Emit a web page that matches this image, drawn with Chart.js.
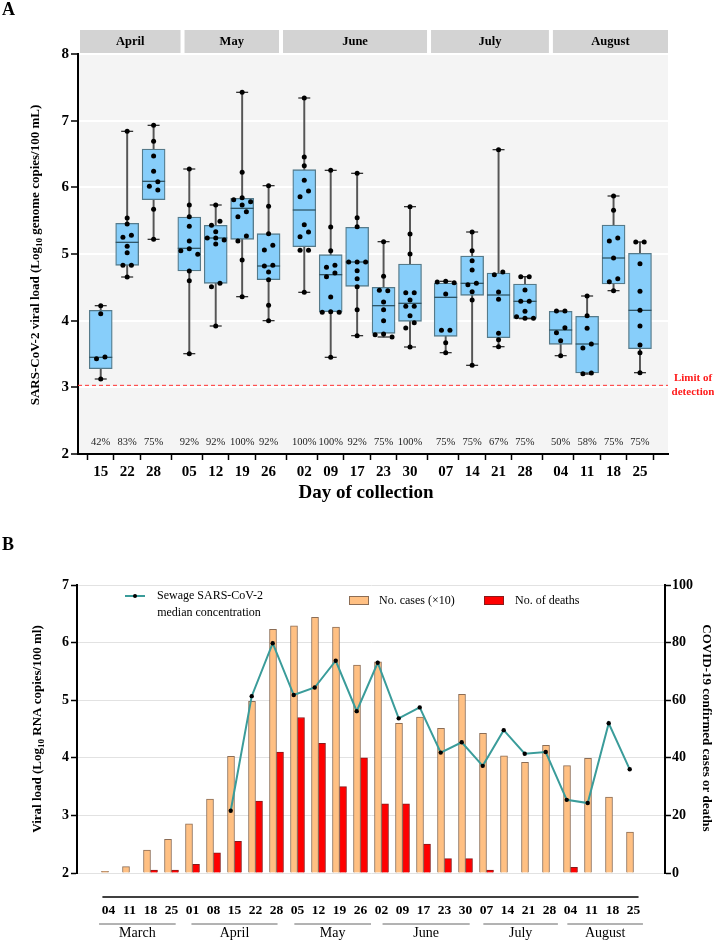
<!DOCTYPE html>
<html>
<head>
<meta charset="utf-8">
<script src="https://cdn.jsdelivr.net/npm/chart.js@4.4.0/dist/chart.umd.min.js"></script>
<style>
html, body { margin: 0; padding: 0; background: #fff; }
#wrap { position: relative; width: 714px; height: 940px; }
canvas { position: absolute; left: 0; }
#chartA { top: 0; }
#chartB { top: 505px; }
</style>
</head>
<body>
<div id="wrap">
  <canvas id="chartA" width="714" height="505"></canvas>
  <canvas id="chartB" width="714" height="435"></canvas>
</div>
<script>
// ---------- panel A data ----------
const monthsA = ['April', 'May', 'June', 'July', 'August'];
const daysA = [['15', '22', '28'], ['05', '12', '19', '26'], ['02', '09', '17', '23', '30'], ['07', '14', '21', '28'], ['04', '11', '18', '25']];
const positivity = ['42%', '83%', '75%', '92%', '92%', '100%', '92%', '100%', '100%', '92%', '75%', '100%', '75%', '75%', '67%', '75%', '50%', '58%', '75%', '75%'];
const boxQ1 = [3.28, 4.83, 5.815, 4.745, 4.56, 5.22, 4.615, 5.11, 4.135, 4.515, 3.81, 3.99, 3.765, 4.38, 3.745, 4.035, 3.645, 3.215, 4.55, 3.58];
const boxQ3 = [4.155, 5.46, 6.575, 5.555, 5.43, 5.835, 5.305, 6.265, 4.99, 5.40, 4.50, 4.85, 4.565, 4.97, 4.715, 4.55, 4.14, 4.065, 5.435, 5.01];
const boxMedian = [3.45, 5.175, 6.09, 5.085, 5.24, 5.685, 4.82, 5.66, 4.69, 4.88, 4.225, 4.26, 4.35, 4.56, 4.385, 4.29, 3.86, 3.65, 4.94, 4.155];
const whiskerMin = [3.125, 4.655, 5.22, 3.505, 3.92, 4.36, 4.0, 4.425, 3.45, 3.775, 3.755, 3.605, 3.52, 3.33, 3.61, 4.03, 3.475, 3.20, 4.45, 3.22];
const whiskerMax = [4.225, 6.84, 6.93, 6.275, 5.735, 7.425, 6.025, 7.34, 6.255, 6.21, 5.185, 5.71, 4.59, 5.33, 6.565, 4.66, 4.145, 4.37, 5.87, 5.18];
const samples = [
  [4.225, 4.105, 3.455, 3.43, 3.125],
  [6.84, 5.54, 5.45, 5.28, 5.25, 5.115, 5.02, 4.83, 4.83, 4.655],
  [6.93, 6.69, 6.47, 6.24, 6.085, 6.015, 5.96, 5.67, 5.22],
  [6.275, 5.735, 5.56, 5.415, 5.195, 5.08, 5.05, 4.995, 4.745, 4.60, 3.505],
  [5.735, 5.49, 5.43, 5.335, 5.24, 5.24, 5.21, 5.15, 4.56, 4.51, 3.92],
  [7.425, 6.225, 5.845, 5.815, 5.785, 5.735, 5.635, 5.56, 5.27, 5.195, 4.91, 4.36],
  [6.025, 5.715, 5.305, 5.13, 5.06, 4.83, 4.82, 4.73, 4.615, 4.23, 4.0],
  [7.34, 6.455, 6.325, 6.105, 5.945, 5.86, 5.44, 5.33, 5.26, 5.055, 5.055, 4.425],
  [6.255, 5.405, 5.05, 4.83, 4.80, 4.715, 4.66, 4.355, 4.135, 4.125, 4.125, 3.45],
  [6.21, 5.545, 5.41, 4.88, 4.88, 4.88, 4.75, 4.63, 4.51, 4.165, 3.775],
  [5.185, 4.665, 4.45, 4.455, 4.28, 4.165, 4.0, 3.80, 3.79, 3.755],
  [5.71, 5.30, 5.0, 4.42, 4.42, 4.31, 4.215, 4.215, 4.075, 3.97, 3.89, 3.605],
  [4.59, 4.58, 4.57, 4.40, 3.855, 3.855, 3.67, 3.52],
  [5.33, 5.05, 4.90, 4.76, 4.56, 4.54, 4.435, 4.31, 3.33],
  [6.565, 4.73, 4.69, 4.43, 4.32, 3.81, 3.715, 3.61],
  [4.66, 4.66, 4.46, 4.29, 4.29, 4.14, 4.06, 4.035, 4.035],
  [4.145, 4.145, 3.895, 3.82, 3.70, 3.475],
  [4.37, 4.075, 3.885, 3.65, 3.59, 3.215, 3.205],
  [5.87, 5.655, 5.24, 5.195, 4.94, 4.63, 4.585, 4.45],
  [5.18, 5.18, 4.855, 4.44, 4.155, 3.92, 3.635, 3.52, 3.22]
];
const limitOfDetection = 3.03;

// ---------- panel B data ----------
const weeksB = ['04', '11', '18', '25', '01', '08', '15', '22', '28', '05', '12', '19', '26', '02', '09', '17', '23', '30', '07', '14', '21', '28', '04', '11', '18', '25'];
const monthsB = ['March', 'April', 'May', 'June', 'July', 'August'];
const casesX10 = [0.6, 2.2, 8, 11.7, 17.1, 25.7, 40.5, 59.6, 84.6, 85.8, 88.8, 85.4, 72.2, 73.3, 52, 54.1, 50.2, 62, 48.5, 40.7, 38.4, 44.3, 37.3, 39.8, 26.4, 14.2];
const deaths = [0, 0, 1, 1, 3, 7, 11, 25, 42, 54, 45, 30, 40, 24, 24, 10, 5, 5, 1, 0, 0, 0, 2, 0, 0, 0];
const sewageMedian = [null, null, null, null, null, null, 3.08, 5.07, 5.99, 5.09, 5.22, 5.685, 4.81, 5.65, 4.685, 4.875, 4.09, 4.27, 3.86, 4.48, 4.07, 4.10, 3.27, 3.215, 4.60, 3.80];

const SERIF = '"Liberation Serif", "Times New Roman", serif';
Chart.defaults.font.family = SERIF;
Chart.defaults.color = '#000';

// x positions of the boxes: one unit per week, a wider gap between months
const xPos = [];
let cur = 0;
daysA.forEach(g => { g.forEach(() => { xPos.push(cur); cur += 1; }); cur += 0.35; });
const dayLabels = daysA.flat();

// simple beeswarm so that equal values sit side by side
function swarmOffsets(vals) {
  const gap = 0.085, step = 0.32;
  const cols = [];
  vals.forEach((v, i) => {
    const near = [];
    for (let j = 0; j < i; j++) if (Math.abs(vals[j] - v) < gap) near.push(cols[j]);
    let c = 0;
    for (const cand of [0, -1, 1, -2, 2]) { if (!near.includes(cand)) { c = cand; break; } }
    cols.push(c);
  });
  const out = cols.slice();
  vals.forEach((v, i) => {
    if (cols[i] !== -1) return;
    const row = vals.map((w, j) => j).filter(j => Math.abs(vals[j] - v) < gap);
    if (!row.some(j => cols[j] === 1)) row.forEach(j => { if (cols[j] === 0 || cols[j] === -1) out[j] = cols[j] + 0.5; });
  });
  return out.map(c => c * step);
}

const samplePoints = [];
samples.forEach((vals, i) => {
  const offs = swarmOffsets(vals);
  vals.forEach((v, k) => samplePoints.push({ x: xPos[i] + offs[k], y: v }));
});

function drawRich(ctx, parts, x, y, rot) {
  ctx.save();
  ctx.translate(x, y);
  ctx.rotate(rot);
  let total = 0;
  parts.forEach(p => { ctx.font = p.font; total += ctx.measureText(p.text).width; });
  let cx = -total / 2;
  ctx.textAlign = 'left';
  ctx.textBaseline = 'middle';
  ctx.fillStyle = '#000';
  parts.forEach(p => {
    ctx.font = p.font;
    ctx.fillText(p.text, cx, p.dy || 0);
    cx += ctx.measureText(p.text).width;
  });
  ctx.restore();
}

const headerBounds = [-0.86, 3.094, 6.82, 12.42, 17.03, 21.46];

const panelA = {
  id: 'panelA',
  beforeDraw(chart) {
    const { ctx, chartArea: a } = chart;
    ctx.save();
    ctx.fillStyle = '#f4f4f4';
    ctx.fillRect(a.left, a.top, a.right - a.left, a.bottom - a.top);
    ctx.restore();
  },
  beforeDatasetsDraw(chart) {
    const { ctx, chartArea: a, scales: { y } } = chart;
    const py = y.getPixelForValue(limitOfDetection);
    ctx.save();
    ctx.strokeStyle = '#ff3030';
    ctx.lineWidth = 1;
    ctx.setLineDash([4, 3]);
    ctx.beginPath();
    ctx.moveTo(a.left, py);
    ctx.lineTo(a.right, py);
    ctx.stroke();
    ctx.restore();
  },
  afterDraw(chart) {
    const { ctx, chartArea: a, scales: { x, y } } = chart;
    ctx.save();
    // month strips
    monthsA.forEach((m, i) => {
      const l = i === 0 ? a.left + 2 : x.getPixelForValue(headerBounds[i]) + 2;
      const r = i === monthsA.length - 1 ? a.right : x.getPixelForValue(headerBounds[i + 1]) - 2;
      ctx.fillStyle = '#d3d3d3';
      ctx.fillRect(l, 30, r - l, 23);
      ctx.fillStyle = '#000';
      ctx.font = 'bold 12.5px ' + SERIF;
      ctx.textAlign = 'center';
      ctx.textBaseline = 'middle';
      ctx.fillText(m, (l + r) / 2, 42);
    });
    // positivity
    ctx.font = '10.5px ' + SERIF;
    ctx.fillStyle = '#222';
    positivity.forEach((p, i) => ctx.fillText(p, x.getPixelForValue(xPos[i]), a.bottom - 12));
    // limit of detection label
    ctx.fillStyle = '#ff1a1a';
    ctx.font = 'bold 11px ' + SERIF;
    const ly = y.getPixelForValue(limitOfDetection);
    ctx.fillText('Limit of', 693, ly - 7);
    ctx.fillText('detection', 693, ly + 7);
    // titles
    ctx.fillStyle = '#000';
    ctx.font = 'bold 19px ' + SERIF;
    ctx.fillText('Day of collection', 366, 493);
    ctx.font = 'bold 18px ' + SERIF;
    ctx.textAlign = 'left';
    ctx.fillText('A', 2, 10);
    ctx.restore();
    drawRich(ctx, [
      { text: 'SARS-CoV-2 viral load (Log', font: 'bold 13px ' + SERIF },
      { text: '10', font: 'bold 9px ' + SERIF, dy: 4 },
      { text: ' genome copies/100 mL)', font: 'bold 13px ' + SERIF }
    ], 36, 255, -Math.PI / 2);
  }
};

new Chart(document.getElementById('chartA'), {
  type: 'bar',
  data: {
    datasets: [
      {
        type: 'bar', label: 'range',
        data: xPos.map((v, i) => ({ x: v, y: [whiskerMin[i], whiskerMax[i]] })),
        backgroundColor: '#555', barThickness: 1.3, grouped: false, order: 4
      },
      {
        type: 'bar', label: 'IQR',
        data: xPos.map((v, i) => ({ x: v, y: [boxQ1[i], boxQ3[i]] })),
        backgroundColor: '#87cefa', borderColor: '#557a8a', borderWidth: 1.3,
        borderSkipped: false, barThickness: 23, grouped: false, order: 3
      },
      {
        type: 'scatter', label: 'median',
        data: xPos.map((v, i) => ({ x: v, y: boxMedian[i] })),
        pointStyle: 'line', radius: 11.5, borderColor: '#2f5566', borderWidth: 1.3, order: 2
      },
      {
        type: 'scatter', label: 'caps',
        data: xPos.map((v, i) => ({ x: v, y: whiskerMin[i] })).concat(xPos.map((v, i) => ({ x: v, y: whiskerMax[i] }))),
        pointStyle: 'line', radius: 6, borderColor: '#333', borderWidth: 1.3, order: 1
      },
      {
        type: 'scatter', label: 'samples', data: samplePoints,
        backgroundColor: '#000', borderWidth: 0, radius: 2.5, order: 0
      }
    ]
  },
  options: {
    responsive: false,
    animation: false,
    events: [],
    layout: { padding: { top: 54, right: 46, left: 0, bottom: 0 } },
    plugins: { legend: { display: false }, tooltip: { enabled: false } },
    scales: {
      x: {
        type: 'linear', min: -0.86, max: 21.46, offset: false,
        afterBuildTicks: s => { s.ticks = xPos.map(v => ({ value: v })); },
        afterFit: s => { s.height = 51; },
        ticks: {
          autoSkip: false, maxRotation: 0, padding: 3,
          font: { size: 15, weight: 'bold' },
          callback: (v, i) => dayLabels[i]
        },
        grid: { drawOnChartArea: false, tickLength: 6, tickColor: '#000', tickWidth: 1.5 },
        border: { color: '#000', width: 2 }
      },
      y: {
        min: 2, max: 8,
        afterFit: s => { s.width = 78; },
        ticks: { stepSize: 1, padding: 2, font: { size: 15, weight: 'bold' } },
        grid: { color: '#ffffff', lineWidth: 2, tickLength: 7, tickColor: '#000', tickWidth: 1.5 },
        border: { color: '#000', width: 2 }
      }
    }
  },
  plugins: [panelA]
});

// ---------- panel B ----------
const monthSpansB = [[-0.45, 3.2], [3.95, 8.05], [8.85, 12.5], [13.05, 17.2], [17.85, 21.4], [21.85, 25.45]];

const panelB = {
  id: 'panelB',
  afterDraw(chart) {
    const { ctx, chartArea: a, scales: { x } } = chart;
    ctx.save();
    // category axis below the plot
    const axY = a.bottom + 24;
    ctx.strokeStyle = '#000';
    ctx.lineWidth = 1.5;
    ctx.beginPath();
    ctx.moveTo(x.getPixelForValue(-0.29), axY);
    ctx.lineTo(x.getPixelForValue(25.24), axY);
    ctx.stroke();
    ctx.fillStyle = '#000';
    ctx.font = 'bold 13.5px ' + SERIF;
    ctx.textAlign = 'center';
    ctx.textBaseline = 'middle';
    weeksB.forEach((w, i) => ctx.fillText(w, x.getPixelForValue(i), axY + 14));
    ctx.strokeStyle = '#666';
    ctx.lineWidth = 1;
    ctx.font = '14px ' + SERIF;
    monthsB.forEach((m, i) => {
      const l = x.getPixelForValue(monthSpansB[i][0]);
      const r = x.getPixelForValue(monthSpansB[i][1]);
      ctx.beginPath();
      ctx.moveTo(l, axY + 27);
      ctx.lineTo(r, axY + 27);
      ctx.stroke();
      ctx.fillText(m, (l + r) / 2, axY + 36);
    });
    // legend
    ctx.strokeStyle = '#3a9c9a';
    ctx.lineWidth = 2;
    ctx.beginPath();
    ctx.moveTo(125, 91);
    ctx.lineTo(145, 91);
    ctx.stroke();
    ctx.fillStyle = '#000';
    ctx.beginPath();
    ctx.arc(135, 91, 2, 0, Math.PI * 2);
    ctx.fill();
    ctx.font = '12px ' + SERIF;
    ctx.textAlign = 'left';
    ctx.fillText('Sewage SARS-CoV-2', 157, 91);
    ctx.textAlign = 'center';
    ctx.fillText('median concentration', 209, 108);
    ctx.fillStyle = '#ffc083';
    ctx.fillRect(349, 91, 20, 9);
    ctx.strokeStyle = '#8c6d55';
    ctx.lineWidth = 1;
    ctx.strokeRect(349.5, 91.5, 19, 8);
    ctx.fillStyle = '#ff0000';
    ctx.fillRect(484, 91, 20, 9);
    ctx.strokeStyle = '#8a1a1a';
    ctx.strokeRect(484.5, 91.5, 19, 8);
    ctx.fillStyle = '#000';
    ctx.textAlign = 'left';
    ctx.fillText('No. cases (\u00d710)', 379, 96);
    ctx.fillText('No. of deaths', 515, 96);
    ctx.font = 'bold 18px ' + SERIF;
    ctx.fillText('B', 2, 40);
    ctx.restore();
    drawRich(ctx, [
      { text: 'Viral load (Log', font: 'bold 13px ' + SERIF },
      { text: '10', font: 'bold 9px ' + SERIF, dy: 4 },
      { text: ' RNA copies/100 ml)', font: 'bold 13px ' + SERIF }
    ], 38, 224, -Math.PI / 2);
    drawRich(ctx, [
      { text: 'COVID-19 confirmed cases or deaths', font: 'bold 13px ' + SERIF }
    ], 706, 223, Math.PI / 2);
  }
};

new Chart(document.getElementById('chartB'), {
  type: 'bar',
  data: {
    datasets: [
      {
        type: 'line', label: 'Sewage SARS-CoV-2 median concentration',
        data: sewageMedian.map((v, i) => ({ x: i, y: v })),
        xAxisID: 'x2', yAxisID: 'y',
        borderColor: '#3a9c9a', borderWidth: 2, tension: 0,
        pointRadius: 2.2, pointBackgroundColor: '#000', pointBorderWidth: 0, order: 0
      },
      {
        type: 'bar', label: 'No. cases (\u00d710)',
        data: casesX10.map((v, i) => ({ x: i, y: v })),
        xAxisID: 'x', yAxisID: 'y1',
        backgroundColor: '#ffc083', borderColor: '#8c6d55', borderWidth: 1,
        barThickness: 7, order: 1
      },
      {
        type: 'bar', label: 'No. of deaths',
        data: deaths.map((v, i) => ({ x: i, y: v })),
        xAxisID: 'x', yAxisID: 'y1',
        backgroundColor: '#ff0000', borderColor: '#8a1a1a', borderWidth: 1,
        barThickness: 7, order: 1
      }
    ]
  },
  options: {
    responsive: false,
    animation: false,
    events: [],
    layout: { padding: { top: 80, right: 0, left: 0, bottom: 67 } },
    plugins: { legend: { display: false }, tooltip: { enabled: false } },
    scales: {
      x: { type: 'linear', min: -1.5, max: 26.5, offset: false, display: false },
      x2: { type: 'linear', min: -1.32, max: 26.68, offset: false, display: false },
      y: {
        position: 'left', min: 2, max: 7,
        afterFit: s => { s.width = 77; },
        ticks: { stepSize: 1, padding: 2, font: { size: 14, weight: 'bold' } },
        grid: { color: '#e2e2e2', lineWidth: 1, tickLength: 6, tickColor: '#000', tickWidth: 1.5 },
        border: { color: '#000', width: 2 }
      },
      y1: {
        position: 'right', min: 0, max: 100,
        afterFit: s => { s.width = 49; },
        ticks: { stepSize: 20, padding: 1, font: { size: 14, weight: 'bold' } },
        grid: { drawOnChartArea: false, tickLength: 6, tickColor: '#000', tickWidth: 1.5 },
        border: { color: '#000', width: 2 }
      }
    }
  },
  plugins: [panelB]
});
</script>
</body>
</html>
